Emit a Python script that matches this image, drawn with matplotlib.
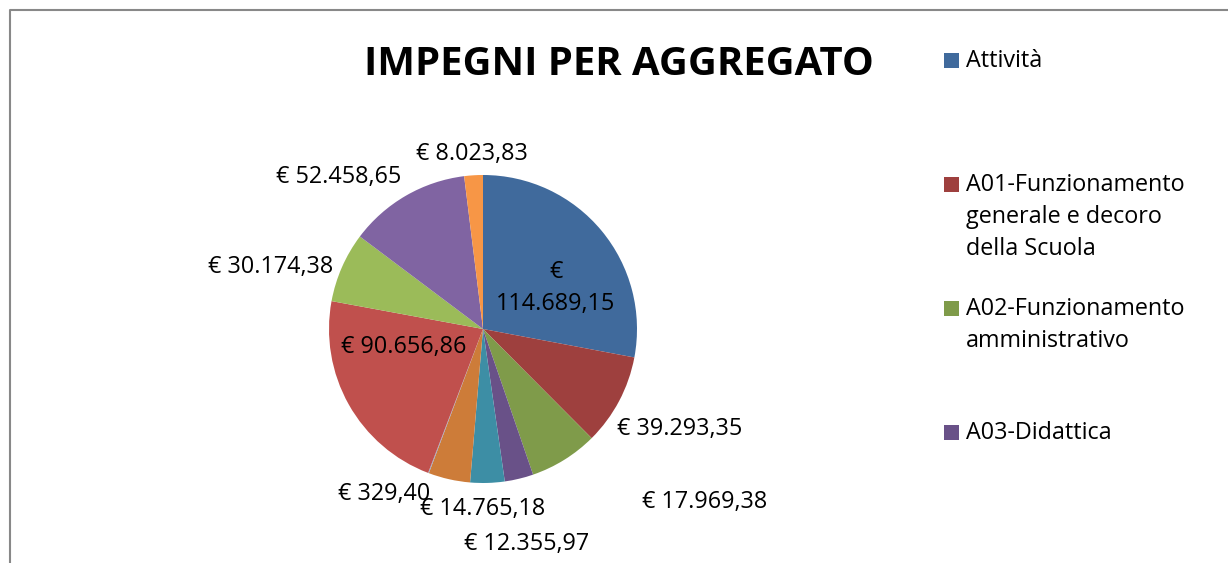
import matplotlib
matplotlib.use("Agg")
import matplotlib.pyplot as plt
from matplotlib.patches import Rectangle

# slices clockwise from 12 o'clock
values = [114689.15, 39293.35, 29500.00, 12355.97, 14765.18, 17969.38,
          329.40, 90656.86, 30174.38, 52458.65, 8023.83]
labels = ["€\n114.689,15", "€ 39.293,35", "", "€ 12.355,97", "€ 14.765,18",
          "€ 17.969,38", "€ 329,40", "€ 90.656,86", "€ 30.174,38",
          "€ 52.458,65", "€ 8.023,83"]
legend_names = ["Attività",
                "A01-Funzionamento\ngenerale e decoro\ndella Scuola",
                "A02-Funzionamento\namministrativo",
                "A03-Didattica"]

colors = ["#406A9C", "#9E403E", "#7F9B4A", "#695188", "#3D8EA5", "#CD7C39",
          "#8EA5CB", "#C0504D", "#9BBB59", "#8064A2", "#F79646"]

W, H = 1228, 563
FONT = "Open Sans"

# label spots (pixel x, pixel baseline y), placed by hand like in the sheet
label_pos = [(556, 310), (680, 435), None, (527, 550), (483, 515),
             (705, 508), (384, 500), (404, 353), (271, 273),
             (339, 183), (472, 160)]

fig = plt.figure(figsize=(W / 100, H / 100), dpi=100)
ax = fig.add_axes([0, 0, 1, 1])

wedges, _ = ax.pie(values, colors=colors, startangle=90, counterclock=False,
                   center=(483, H - 329), radius=154,
                   wedgeprops=dict(linewidth=0))
ax.set_xlim(0, W)
ax.set_ylim(0, H)
ax.set_aspect("equal")
ax.axis("off")

for lab, pos in zip(labels, label_pos):
    if pos is None or not lab:
        continue
    lines = lab.split("\n")
    for i, line in enumerate(reversed(lines)):
        ax.text(pos[0], H - pos[1] + i * 32, line, ha="center", va="baseline",
                fontsize=16.8, family=FONT, color="black")

# chart frame
ax.plot([9.5, 9.5, W], [-5, H - 9.5, H - 9.5], color="#888888", lw=1.5,
        clip_on=False)

ax.text(619, H - 75, "IMPEGNI PER AGGREGATO", ha="center", va="baseline",
        fontsize=28.8, fontweight="bold", family=FONT)

# legend (only the first entries fit in the frame)
y0 = 67
for k, name in enumerate(legend_names):
    yb = y0 + k * 124
    ax.add_patch(Rectangle((944, H - yb - 1), 15, 15, color=colors[k], lw=0))
    for j, line in enumerate(name.split("\n")):
        ax.text(966, H - yb - j * 32, line, ha="left", va="baseline",
                fontsize=16.8, family=FONT)

fig.savefig("out.png", dpi=100)
